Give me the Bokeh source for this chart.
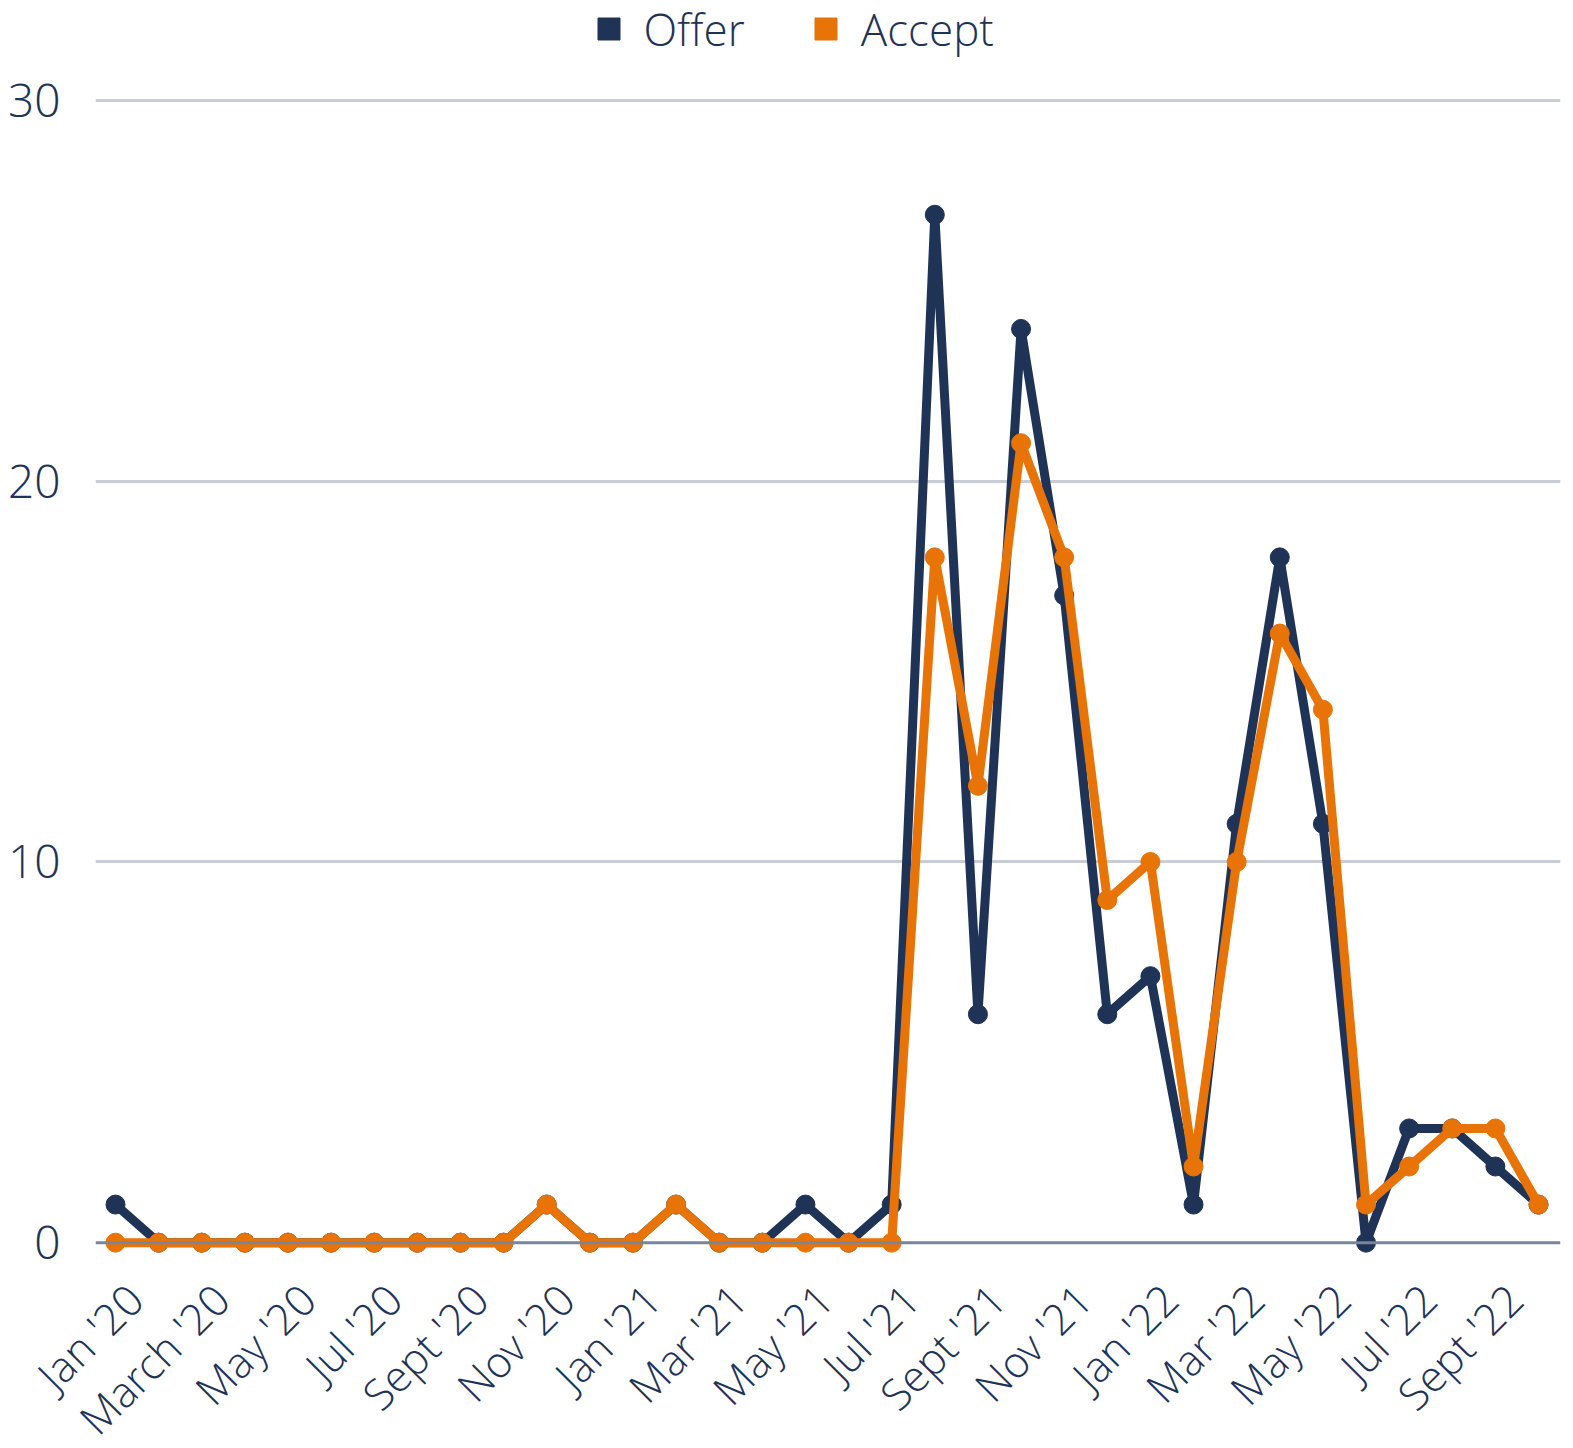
import math
from bokeh.plotting import figure
from bokeh.models import (ColumnDataSource, Range1d, FixedTicker, Legend, LegendItem, Span, LinearAxis)
from bokeh.embed import file_html
from bokeh.resources import INLINE

months = ["Jan '20", "Feb '20", "March '20", "Apr '20", "May '20", "Jun '20", "Jul '20", "Aug '20",
          "Sept '20", "Oct '20", "Nov '20", "Dec '20", "Jan '21", "Feb '21", "Mar '21", "Apr '21",
          "May '21", "Jun '21", "Jul '21", "Aug '21", "Sept '21", "Oct '21", "Nov '21", "Dec '21",
          "Jan '22", "Feb '22", "Mar '22", "Apr '22", "May '22", "Jun '22", "Jul '22", "Aug '22",
          "Sept '22", "Oct '22"]
offer = [1, 0, 0, 0, 0, 0, 0, 0, 0, 0, 1, 0, 0, 1, 0, 0, 1, 0, 1, 27, 6, 24, 17, 6, 7, 1, 11, 18, 11, 0, 3, 3, 2, 1]
accept = [0, 0, 0, 0, 0, 0, 0, 0, 0, 0, 1, 0, 0, 1, 0, 0, 0, 0, 0, 18, 12, 21, 18, 9, 10, 2, 10, 16, 14, 1, 2, 3, 3, 1]
y_ticks = [0, 10, 20, 30]

OFFER_C = "#1f3357"
ACCEPT_C = "#e87306"
TEXT_C = "#1f3357"
FONT = "Open Sans Light"

FW, FH = 1465, 1265
X0, X1 = -0.464, 33.51
Y0, Y1 = -0.6, 32.627

x = list(range(len(months)))
src = ColumnDataSource(dict(x=x, offer=offer, accept=accept, month=months))

p = figure(frame_width=FW, frame_height=FH, output_backend="svg", toolbar_location=None,
           x_range=Range1d(X0, X1), y_range=Range1d(Y0, Y1), x_axis_location=None,
           min_border_left=95, min_border_top=0, min_border_right=13, min_border_bottom=0)
p.outline_line_color = None
p.background_fill_color = "white"

# grid
p.xgrid.grid_line_color = None
p.ygrid.ticker = FixedTicker(ticks=[10, 20, 30])
p.ygrid.grid_line_color = "#c9cdd8"
p.ygrid.grid_line_width = 3
zero = Span(location=0, dimension="width", line_color="#7a8599", line_width=3)
p.add_layout(zero)

# y axis
p.yaxis.ticker = FixedTicker(ticks=y_ticks)
p.yaxis.axis_line_color = None
p.yaxis.major_tick_line_color = None
p.yaxis.minor_tick_line_color = None
p.yaxis.major_label_text_font = FONT
p.yaxis.major_label_text_font_size = "46px"
p.yaxis.major_label_text_color = TEXT_C
p.yaxis.major_label_standoff = 29

# x axis (labels on a slightly shifted range so rotated labels sit like the reference)
SHIFT = 0.45
p.extra_x_ranges = {"lab": Range1d(X0 - SHIFT, X1 - SHIFT)}
xaxis = LinearAxis(x_range_name="lab", ticker=FixedTicker(ticks=x[::2]),
                   major_label_overrides={i: months[i] for i in x[::2]},
                   axis_line_color=None, major_tick_line_color=None, minor_tick_line_color=None,
                   major_label_orientation=math.pi / 4,
                   major_label_text_font=FONT, major_label_text_font_size="43px",
                   major_label_text_color=TEXT_C, major_label_standoff=20)
p.add_layout(xaxis, "below")

# series
p.line("x", "offer", source=src, line_color=OFFER_C, line_width=9, line_join="round")
p.scatter("x", "offer", source=src, size=19, fill_color=OFFER_C, line_color=OFFER_C)
p.line("x", "accept", source=src, line_color=ACCEPT_C, line_width=9, line_join="round")
p.scatter("x", "accept", source=src, size=19, fill_color=ACCEPT_C, line_color=ACCEPT_C)

# legend (square swatches)
nan_src = ColumnDataSource(dict(x=[0], y=[float("nan")]))
sq_offer = p.scatter("x", "y", source=nan_src, marker="square", size=22, fill_color=OFFER_C, line_color=OFFER_C)
sq_accept = p.scatter("x", "y", source=nan_src, marker="square", size=22, fill_color=ACCEPT_C, line_color=ACCEPT_C)
legend = Legend(items=[LegendItem(label="Offer", renderers=[sq_offer]),
                       LegendItem(label="Accept", renderers=[sq_accept])],
                orientation="horizontal", location=(485.5, FH - 55 - 3.5),
                glyph_width=55, glyph_height=55, label_standoff=8, spacing=53,
                padding=0, margin=0, border_line_color=None, background_fill_alpha=0,
                label_text_font=FONT, label_text_font_size="44px", label_text_color=TEXT_C,
                label_text_baseline="middle")
p.add_layout(legend, "center")

open("out.html", "w").write(file_html(p, INLINE))
